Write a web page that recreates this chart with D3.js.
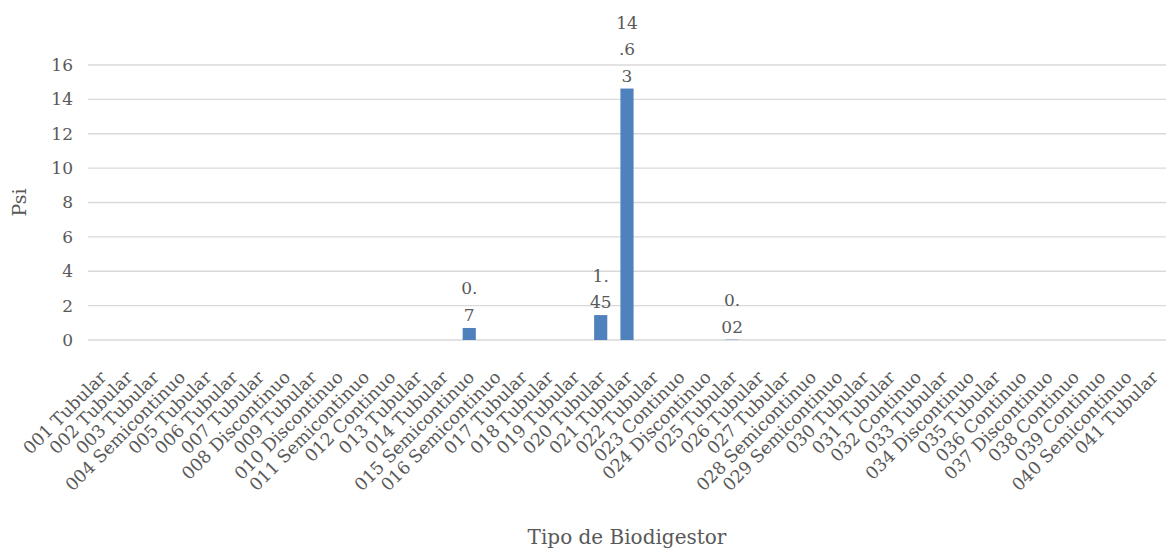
<!DOCTYPE html>
<html>
<head>
<meta charset="utf-8">
<script src="https://cdn.jsdelivr.net/npm/d3@7/dist/d3.min.js"></script>
<style>
  html, body { margin: 0; padding: 0; background: #ffffff; }
  svg { display: block; }
</style>
</head>
<body>
<svg id="chart" width="1166" height="553"></svg>
<script>
const categories = [
  "001 Tubular", "002 Tubular", "003 Tubular", "004 Semicontinuo", "005 Tubular",
  "006 Tubular", "007 Tubular", "008 Discontinuo", "009 Tubular", "010 Discontinuo",
  "011 Semicontinuo", "012 Continuo", "013 Tubular", "014 Tubular", "015 Semicontinuo",
  "016 Semicontinuo", "017 Tubular", "018 Tubular", "019 Tubular", "020 Tubular",
  "021 Tubular", "022 Tubular", "023 Continuo", "024 Discontinuo", "025 Tubular",
  "026 Tubular", "027 Tubular", "028 Semicontinuo", "029 Semicontinuo", "030 Tubular",
  "031 Tubular", "032 Continuo", "033 Tubular", "034 Discontinuo", "035 Tubular",
  "036 Continuo", "037 Discontinuo", "038 Continuo", "039 Continuo", "040 Semicontinuo",
  "041 Tubular"
];
// Psi values (only non-empty categories carry a value)
const values = [
  null, null, null, null, null,
  null, null, null, null, null,
  null, null, null, null, 0.7,
  null, null, null, null, 1.45,
  14.63, null, null, null, 0.02,
  null, null, null, null, null,
  null, null, null, null, null,
  null, null, null, null, null,
  null
];
const yTicks = [0, 2, 4, 6, 8, 10, 12, 14, 16];
const yTitle = "Psi";
const xTitle = "Tipo de Biodigestor";

const FONT = "'DejaVu Serif', serif";
const TEXT = "#595959";
const GRID = "#d9d9d9";
const BAR = "#4f81bd";

const svg = d3.select("#chart");
const margin = { left: 88, right: 0, top: 65, bottom: 213 };
const W = 1166, H = 553;

const x = d3.scaleBand()
  .domain(categories)
  .range([margin.left, W - margin.right])
  .paddingInner(0.5)
  .paddingOuter(0.25);

const y = d3.scaleLinear()
  .domain([0, 16])
  .range([H - margin.bottom, margin.top]);

// gridlines
svg.append("g")
  .selectAll("line")
  .data(yTicks)
  .join("line")
  .attr("x1", margin.left)
  .attr("x2", W - margin.right)
  .attr("y1", d => y(d))
  .attr("y2", d => y(d))
  .attr("stroke", GRID)
  .attr("stroke-width", 1.3);

// y axis labels
const yAxis = d3.axisLeft(y).tickValues(yTicks).tickSize(0).tickPadding(15);
const gy = svg.append("g")
  .attr("transform", `translate(${margin.left},0)`)
  .call(yAxis);
gy.select(".domain").remove();
gy.selectAll("text")
  .attr("font-family", FONT)
  .attr("font-size", 17)
  .attr("fill", TEXT);

// x axis labels
const xAxis = d3.axisBottom(x).tickSize(0).tickPadding(0);
const gx = svg.append("g")
  .attr("transform", `translate(0,${y(0)})`)
  .call(xAxis);
gx.select(".domain").remove();
gx.selectAll("text")
  .attr("font-family", FONT)
  .attr("font-size", 17.5)
  .attr("fill", TEXT)
  .attr("text-anchor", "end")
  .attr("dy", "0.35em")
  .attr("y", 0)
  .attr("transform", "translate(2,34) rotate(-45)");

const data = categories.map((c, i) => ({ c, v: values[i] })).filter(d => d.v !== null);

// bars
svg.append("g")
  .selectAll("rect")
  .data(data)
  .join("rect")
  .attr("x", d => x(d.c))
  .attr("width", x.bandwidth())
  .attr("y", d => y(d.v))
  .attr("height", d => y(0) - y(d.v))
  .attr("fill", BAR);

// data labels (wrapped as in original, 2 chars per line)
function chunks(s) {
  const out = [];
  for (let i = 0; i < s.length; i += 2) out.push(s.slice(i, i + 2));
  return out;
}
const lab = svg.append("g")
  .selectAll("text")
  .data(data)
  .join("text")
  .attr("font-family", FONT)
  .attr("font-size", 17)
  .attr("fill", TEXT)
  .attr("text-anchor", "middle");
lab.each(function(d) {
  const lines = chunks(String(d.v));
  const n = lines.length;
  const cx = x(d.c) + x.bandwidth() / 2;
  const base = y(d.v) - 7;
  d3.select(this).selectAll("tspan")
    .data(lines)
    .join("tspan")
    .attr("x", cx)
    .attr("y", (t, i) => base - (n - 1 - i) * 26.5)
    .text(t => t);
});

// axis titles
svg.append("text")
  .attr("transform", `translate(26,${(y(0) + y(16)) / 2}) rotate(-90)`)
  .attr("text-anchor", "middle")
  .attr("font-family", FONT)
  .attr("font-size", 19)
  .attr("fill", TEXT)
  .text(yTitle);

svg.append("text")
  .attr("x", (margin.left + W - margin.right) / 2)
  .attr("y", 544)
  .attr("text-anchor", "middle")
  .attr("font-family", FONT)
  .attr("font-size", 20)
  .attr("fill", TEXT)
  .text(xTitle);
</script>
</body>
</html>
